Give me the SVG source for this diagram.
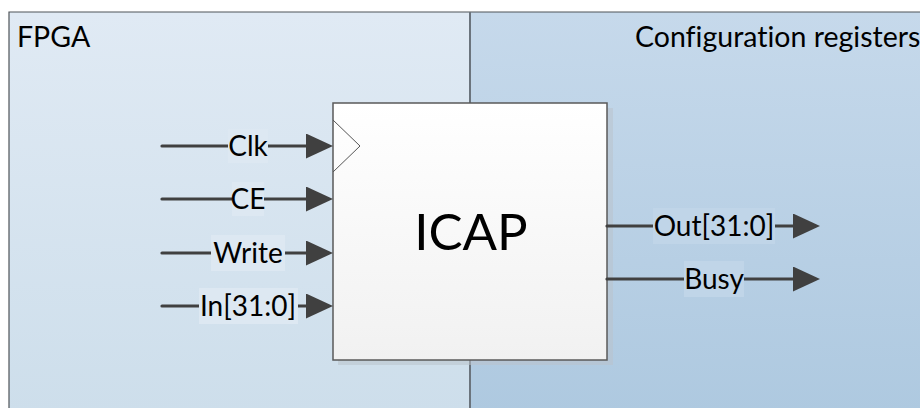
<svg xmlns="http://www.w3.org/2000/svg" width="920" height="408" viewBox="0 0 920 408">
  <defs>
    <linearGradient id="gFpga" x1="0" y1="0" x2="0" y2="1">
      <stop offset="0" stop-color="#e0eaf4"/>
      <stop offset="1" stop-color="#cddeeb"/>
    </linearGradient>
    <linearGradient id="gCfg" x1="0" y1="0" x2="0" y2="1">
      <stop offset="0" stop-color="#c6d9eb"/>
      <stop offset="1" stop-color="#aec9e0"/>
    </linearGradient>
    <linearGradient id="gBlock" x1="0" y1="0" x2="0" y2="1">
      <stop offset="0" stop-color="#ffffff"/>
      <stop offset="1" stop-color="#f1f1f1"/>
    </linearGradient>
    <!-- arrowhead starts at the wire end and runs 27px further -->
    <marker id="arrow" viewBox="0 0 27 25" refX="2" refY="12.5" markerWidth="27" markerHeight="25" markerUnits="userSpaceOnUse" orient="auto">
      <path d="M0,0 L27,12.5 L0,25 Z" fill="#404040"/>
    </marker>
  </defs>
  <style>
    text { font-variant-ligatures: none; }
    .panel-border { fill: none; stroke: #4f5459; stroke-width: 1.2; }
    .title { font-family: Lato, "Open Sans", sans-serif; font-size: 28.5px; fill: #000; }
    .sig { font-family: Lato, "Open Sans", sans-serif; font-size: 28px; fill: #000; text-anchor: middle; }
    .wire { stroke: #404040; stroke-width: 3.2; fill: none; stroke-linecap: round; marker-end: url(#arrow); }
    .lblL { fill: #dde8f2; }
    .lblR { fill: #c0d5e8; }
  </style>

  <!-- FPGA fabric region -->
  <g id="fpga">
    <rect x="9" y="12" width="461" height="400" fill="url(#gFpga)"/>
    <path d="M9,412 V12 H470" class="panel-border"/>
    <text x="17" y="47" class="title">FPGA</text>
  </g>

  <!-- configuration register region -->
  <g id="config-registers">
    <rect x="470" y="12" width="455" height="400" fill="url(#gCfg)"/>
    <path d="M470,12 H925" class="panel-border"/>
    <line x1="470" y1="12" x2="470" y2="412" stroke="#6b747d" stroke-width="2"/>
    <text x="635" y="47" class="title">Configuration registers</text>
  </g>

  <!-- ICAP primitive -->
  <g id="icap">
    <rect x="338" y="108" width="275" height="257" fill="#b9c3cc" opacity="0.55"/>
    <rect x="333" y="103" width="274" height="257" fill="url(#gBlock)" stroke="#5a5a5a" stroke-width="1.5"/>
    <path d="M333,120 L360,146 L333,172" fill="none" stroke="#555" stroke-width="1"/>
    <text x="471" y="250" font-family="Lato, 'Open Sans', sans-serif" font-size="51" text-anchor="middle" fill="#000">ICAP</text>
  </g>

  <!-- signal wires -->
  <g id="connectors">
    <line x1="162" y1="146" x2="308" y2="146" class="wire"/>
    <line x1="162" y1="199" x2="308" y2="199" class="wire"/>
    <line x1="162" y1="253" x2="308" y2="253" class="wire"/>
    <line x1="162" y1="306" x2="308" y2="306" class="wire"/>
    <line x1="607" y1="226" x2="795" y2="226" class="wire"/>
    <line x1="607" y1="279" x2="795" y2="279" class="wire"/>

    <rect x="228" y="129" width="40" height="34" class="lblL"/>
    <text x="248" y="156" class="sig">Clk</text>
    <rect x="232" y="182" width="32" height="34" class="lblL"/>
    <text x="248" y="209" class="sig">CE</text>
    <rect x="211" y="235" width="74" height="36" class="lblL"/>
    <text x="248" y="263" class="sig">Write</text>
    <rect x="199" y="288" width="99" height="36" class="lblL"/>
    <text x="248" y="316" class="sig">In[31:0]</text>

    <rect x="653" y="208" width="122" height="36" class="lblR"/>
    <text x="714" y="236" class="sig">Out[31:0]</text>
    <rect x="684" y="261" width="60" height="36" class="lblR"/>
    <text x="714" y="289" class="sig">Busy</text>
  </g>
</svg>
